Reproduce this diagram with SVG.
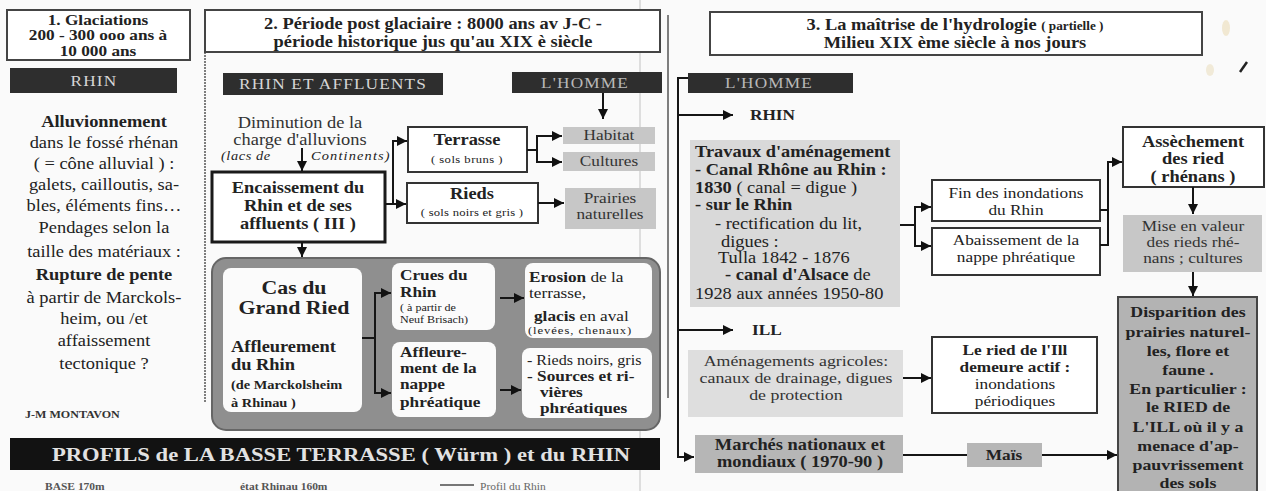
<svg xmlns="http://www.w3.org/2000/svg" width="1266" height="491" viewBox="0 0 1266 491">
<defs>
<marker id="ah" markerUnits="userSpaceOnUse" markerWidth="10" markerHeight="10" refX="10" refY="5" orient="auto">
<path d="M0,0 L10,5 L0,10 z" fill="#111"/>
</marker>
<style>
text{font-family:"Liberation Serif","Times New Roman",serif;fill:#222;font-size:15px;transform-box:fill-box;transform-origin:center;transform:scaleX(1.15)}
.l{transform-origin:left center}
.c{text-anchor:middle}
.b{font-weight:bold}
.s{font-size:11px;letter-spacing:0.4px}
.box{fill:#fff;stroke:#333;stroke-width:2}
.frame{fill:#fff;stroke:#444;stroke-width:2}
.dark{fill:#2e2e2e}
.bt{fill:#d6d6d6;letter-spacing:1px}
.bt2{fill:#b8b8b8;letter-spacing:1px}
.g1{fill:#c7c7c7}
.g2{fill:#d9d9d9}
.g3{fill:#b6b6b6}
.inner{fill:#fbfbfb}
.conn{fill:none;stroke:#151515;stroke-width:2}
.arr{marker-end:url(#ah)}
.gt{fill:#333}
</style>
</defs>
<rect x="0" y="0" width="1266" height="491" fill="#fafafa"/>

<!-- scan artefacts / frames -->
<g id="frames">
<line x1="640" y1="0" x2="640" y2="491" stroke="#d4d4d4" stroke-width="1.5"/>
<line x1="205" y1="52" x2="205" y2="403" stroke="#555" stroke-width="1.5" stroke-dasharray="2 1"/>
<line x1="668" y1="15" x2="668" y2="398" stroke="#555" stroke-width="1.5"/>
<path d="M1240,72 L1247,62" stroke="#222" stroke-width="2.5" fill="none"/>
<ellipse cx="1226" cy="28" rx="4" ry="8" fill="#efe4c8" opacity="0.8"/>
<ellipse cx="1210" cy="70" rx="4" ry="6" fill="#efe6d0" opacity="0.8"/>
</g>

<!-- Section 1 -->
<g id="n-glaciations">
<rect class="frame" x="7" y="10" width="183" height="50"/>
<text class="c b" x="98" y="25">1. Glaciations</text>
<text class="c b" x="98" y="40">200 - 300 ooo ans à</text>
<text class="c b" x="98" y="56">10 000 ans</text>
</g>
<g id="n-rhin1">
<rect class="dark" x="10" y="68" width="167" height="25"/>
<text class="c bt" x="94" y="86">RHIN</text>
</g>
<g id="n-alluvionnement" style="font-size:16px">
<text class="c b" x="104" y="127" style="font-size:16px">Alluvionnement</text>
<text class="c" x="104" y="148" style="font-size:16px">dans le fossé rhénan</text>
<text class="c" x="104" y="169" style="font-size:16px">( = cône alluvial ) :</text>
<text class="c" x="104" y="190" style="font-size:16px">galets, cailloutis, sa-</text>
<text class="c" x="104" y="211" style="font-size:16px">bles, éléments fins…</text>
<text class="c" x="104" y="233" style="font-size:16px">Pendages selon la</text>
<text class="c" x="104" y="257" style="font-size:16px">taille des matériaux :</text>
<text class="c b" x="104" y="280" style="font-size:16px">Rupture de pente</text>
<text class="c" x="104" y="303" style="font-size:16px">à partir de Marckols-</text>
<text class="c" x="104" y="324" style="font-size:16px">heim,    ou /et</text>
<text class="c" x="104" y="346" style="font-size:16px">affaissement</text>
<text class="c" x="104" y="369" style="font-size:16px">tectonique ?</text>
</g>
<g id="n-montavon">
<text class="l b" x="25" y="418" style="font-size:10.5px;fill:#333">J-M MONTAVON</text>
</g>

<!-- Section 2 -->
<g id="n-periode">
<rect class="frame" x="205" y="10" width="455" height="42"/>
<text class="c b" x="433" y="29" style="font-size:16px">2. Période post glaciaire : 8000 ans av J-C -</text>
<text class="c b" x="433" y="47" style="font-size:16px">période historique jus qu'au XIX è siècle</text>
</g>
<g id="n-rhin-affluents">
<rect class="dark" x="223" y="73" width="220" height="22"/>
<text class="c bt" x="333" y="89">RHIN ET AFFLUENTS</text>
</g>
<g id="n-homme2">
<rect class="dark" x="512" y="72" width="150" height="21"/>
<text class="c bt2" x="585" y="88">L'HOMME</text>
</g>
<g id="n-diminution">
<text class="c gt" x="300" y="128" style="font-size:16px">Diminution de la</text>
<text class="c gt" x="300" y="145" style="font-size:16px">charge d'alluvions</text>
<text class="l" x="221" y="160" style="font-size:12.5px;font-style:italic;letter-spacing:0.5px">(lacs de</text>
<text class="l" x="311" y="160" style="font-size:12.5px;font-style:italic;letter-spacing:1px">Continents)</text>
</g>
<g id="n-encaissement">
<rect x="212" y="172" width="173" height="70" fill="#fff" stroke="#1a1a1a" stroke-width="3"/>
<text class="c b" x="298" y="193" style="font-size:16px">Encaissement du</text>
<text class="c b" x="298" y="211" style="font-size:16px">Rhin et de ses</text>
<text class="c b" x="298" y="229" style="font-size:16px">affluents ( III )</text>
</g>
<g id="n-terrasse">
<rect class="box" x="408" y="127" width="119" height="45"/>
<text class="c b" x="467" y="145" style="font-size:16px">Terrasse</text>
<text class="c s" x="467" y="163">( sols bruns )</text>
</g>
<g id="n-rieds">
<rect class="box" x="407" y="183" width="131" height="40"/>
<text class="c b" x="472" y="199" style="font-size:16px">Rieds</text>
<text class="c s" x="472" y="216" style="letter-spacing:0.2px">( sols noirs et gris )</text>
</g>
<g id="n-habitat">
<rect class="g1" x="563" y="127" width="92" height="17"/>
<text class="c gt" x="609" y="140">Habitat</text>
</g>
<g id="n-cultures">
<rect class="g1" x="563" y="152" width="92" height="19"/>
<text class="c gt" x="609" y="166">Cultures</text>
</g>
<g id="n-prairies">
<rect class="g1" x="565" y="188" width="91" height="41"/>
<text class="c gt" x="610" y="203">Prairies</text>
<text class="c gt" x="610" y="219">naturelles</text>
</g>

<g id="n-grandried">
<rect x="212" y="258" width="448" height="172" rx="14" fill="#8f8f8f" stroke="#666" stroke-width="2"/>
<g id="n-cas">
<rect class="inner" x="223" y="268" width="139" height="144" rx="8"/>
<text class="c b" x="294" y="294" style="font-size:19px">Cas du</text>
<text class="c b" x="294" y="314" style="font-size:19px">Grand Ried</text>
<text class="l b" x="231" y="352" style="font-size:16px">Affleurement</text>
<text class="l b" x="231" y="370" style="font-size:16px">du Rhin</text>
<text class="l b" x="231" y="389" style="font-size:12.5px">(de Marckolsheim</text>
<text class="l b" x="231" y="407" style="font-size:12.5px">à Rhinau )</text>
</g>
<g id="n-crues">
<rect class="inner" x="392" y="263" width="103" height="67" rx="8"/>
<text class="l b" x="400" y="280">Crues du</text>
<text class="l b" x="400" y="297">Rhin</text>
<text class="l" x="400" y="311" style="font-size:10.5px">( à partir de</text>
<text class="l" x="400" y="323" style="font-size:10.5px">Neuf Brisach)</text>
</g>
<g id="n-affleurement">
<rect class="inner" x="392" y="342" width="104" height="75" rx="8"/>
<text class="l b" x="400" y="357">Affleure-</text>
<text class="l b" x="400" y="373">ment de la</text>
<text class="l b" x="400" y="389">nappe</text>
<text class="l b" x="400" y="407">phréatique</text>
</g>
<g id="n-erosion">
<rect class="inner" x="525" y="263" width="127" height="75" rx="8"/>
<text class="l" x="529" y="282"><tspan class="b">Erosion</tspan>  de la</text>
<text class="l" x="529" y="298">terrasse,</text>
<text class="l" x="534" y="321"><tspan class="b">glacis</tspan> en aval</text>
<text class="l" x="528" y="334" style="font-size:11px;letter-spacing:0.8px">(levées, chenaux)</text>
</g>
<g id="n-riedsnoirs">
<rect class="inner" x="522" y="348" width="130" height="70" rx="8"/>
<text class="l" x="527" y="365" style="font-size:14px">- Rieds noirs, gris</text>
<text class="l b" x="527" y="381">- Sources et ri-</text>
<text class="l b" x="540" y="397">vières</text>
<text class="l b" x="540" y="413">phréatiques</text>
</g>
</g>

<g id="n-profils">
<rect x="10" y="438" width="650" height="32" fill="#121212"/>
<text x="52" y="461" textLength="578" lengthAdjust="spacingAndGlyphs" style="transform:none;font-size:18px;font-weight:bold;fill:#e2e2e2">PROFILS  de LA BASSE TERRASSE ( Würm ) et du  RHIN</text>
<text class="l b" x="45" y="490" style="font-size:10px;fill:#555">BASE 170m</text>
<text class="l b" x="240" y="490" style="font-size:10px;fill:#555">état Rhinau 160m</text>
<line x1="440" y1="485" x2="474" y2="485" stroke="#777" stroke-width="2"/>
<text class="l" x="480" y="490" style="font-size:10px;fill:#666">Profil du Rhin</text>
</g>

<!-- Section 3 -->
<g id="n-maitrise">
<rect class="frame" x="710" y="12" width="492" height="43"/>
<text class="c b" x="955" y="30" style="font-size:16px">3. La maîtrise de l'hydrologie <tspan style="font-size:11.5px">( partielle )</tspan></text>
<text class="c b" x="955" y="48" style="font-size:16px">Milieu XIX ème siècle à nos jours</text>
</g>
<g id="n-homme3">
<rect class="dark" x="688" y="73" width="165" height="20"/>
<text class="c bt2" x="769" y="88">L'HOMME</text>
</g>
<g id="n-rhin3">
<text class="l b" x="750" y="120">RHIN</text>
</g>
<g id="n-ill">
<text class="l b" x="752" y="335">ILL</text>
</g>
<g id="n-travaux">
<rect class="g2" x="690" y="140" width="210" height="167"/>
<text class="l b" x="695" y="157" style="font-size:16px">Travaux d'aménagement</text>
<text class="l b" x="695" y="175" style="font-size:16px">- Canal Rhône au Rhin :</text>
<text class="l" x="695" y="193" style="font-size:16px"><tspan class="b">1830</tspan>  ( canal = digue )</text>
<text class="l b" x="695" y="210" style="font-size:16px">-  sur le Rhin</text>
<text class="l" x="715" y="229" style="font-size:16px">- rectification du lit,</text>
<text class="l" x="721" y="247" style="font-size:16px">digues :</text>
<text class="l" x="718" y="263" style="font-size:16px">Tulla 1842 - 1876</text>
<text class="l" x="725" y="280" style="font-size:16px"><tspan class="b">- canal d'Alsace</tspan>  de</text>
<text class="l" x="695" y="299" style="font-size:16px">1928  aux années 1950-80</text>
</g>
<g id="n-fin">
<rect class="box" x="932" y="180" width="168" height="41"/>
<text class="c" x="1016" y="198">Fin des inondations</text>
<text class="c" x="1016" y="215">du Rhin</text>
</g>
<g id="n-abaissement">
<rect class="box" x="932" y="228" width="168" height="47"/>
<text class="c" x="1016" y="245">Abaissement de la</text>
<text class="c" x="1016" y="262">nappe phréatique</text>
</g>
<g id="n-assechement">
<rect class="box" x="1123" y="127" width="141" height="60"/>
<text class="c b" x="1193" y="147" style="font-size:16px">Assèchement</text>
<text class="c b" x="1193" y="164" style="font-size:16px">des ried</text>
<text class="c b" x="1193" y="182" style="font-size:16px">( rhénans )</text>
</g>
<g id="n-mise">
<rect class="g1" x="1123" y="215" width="139" height="57"/>
<text class="c gt" x="1193" y="231">Mise en valeur</text>
<text class="c gt" x="1193" y="247">des rieds rhé-</text>
<text class="c gt" x="1193" y="263">nans ; cultures</text>
</g>
<g id="n-disparition">
<rect x="1118" y="297" width="139" height="200" fill="#b3b3b3" stroke="#444" stroke-width="2"/>
<text class="c b" x="1188" y="317" style="font-size:15.5px">Disparition des</text>
<text class="c b" x="1188" y="337" style="font-size:15.5px">prairies naturel-</text>
<text class="c b" x="1188" y="356" style="font-size:15.5px">les, flore et</text>
<text class="c b" x="1188" y="375" style="font-size:15.5px">faune .</text>
<text class="c b" x="1188" y="394" style="font-size:15.5px">En particulier :</text>
<text class="c b" x="1188" y="412" style="font-size:15.5px">le RIED de</text>
<text class="c b" x="1188" y="432" style="font-size:15.5px">L'ILL où il  y a</text>
<text class="c b" x="1188" y="451" style="font-size:15.5px">menace d'ap-</text>
<text class="c b" x="1188" y="470" style="font-size:15.5px">pauvrissement</text>
<text class="c b" x="1188" y="488" style="font-size:15.5px">des sols</text>
</g>
<g id="n-amenagements">
<rect class="g2" x="688" y="350" width="215" height="67" style="fill:#dedede"/>
<text class="c gt" x="796" y="366" style="font-size:15.5px">Aménagements agricoles:</text>
<text class="c gt" x="796" y="383" style="font-size:15.5px">canaux de drainage, digues</text>
<text class="c gt" x="796" y="400" style="font-size:15.5px">de protection</text>
</g>
<g id="n-ried-ill">
<rect class="box" x="932" y="337" width="165" height="76"/>
<text class="c b" x="1015" y="355">Le ried de l'Ill</text>
<text class="c b" x="1015" y="372">demeure actif :</text>
<text class="c" x="1015" y="389">inondations</text>
<text class="c" x="1015" y="406">périodiques</text>
</g>
<g id="n-marches">
<rect class="g3" x="695" y="435" width="208" height="38"/>
<text class="c b" x="800" y="450" style="font-size:16px">Marchés nationaux et</text>
<text class="c b" x="800" y="467" style="font-size:16px">mondiaux ( 1970-90 )</text>
</g>
<g id="n-mais">
<rect class="g3" x="967" y="443" width="75" height="24"/>
<text class="c b" x="1004" y="460">Maïs</text>
</g>

<g id="connectors">
<path class="conn arr" d="M603,93 V119"/>
<path class="conn arr" d="M302,148 V171"/>
<path class="conn arr" d="M385,204 H406"/>
<path class="conn arr" d="M393,204 V141 H407"/>
<path class="conn arr" d="M527,150 H537 V136 H562"/>
<path class="conn arr" d="M537,150 V162 H562"/>
<path class="conn arr" d="M538,203 H564"/>
<path class="conn arr" d="M302,242 V257"/>
<path class="conn" d="M362,338 H375"/>
<path class="conn arr" d="M375,338 V293 H391"/>
<path class="conn arr" d="M375,338 V393 H391"/>
<path class="conn arr" d="M500,298 H524"/>
<path class="conn arr" d="M500,390 H521"/>
<path class="conn arr" d="M688,78 H678 V457 H694"/>
<path class="conn arr" d="M678,115 H733"/>
<path class="conn arr" d="M678,330 H733"/>
<path class="conn arr" d="M900,225 H915 V207 H931"/>
<path class="conn arr" d="M915,225 V246 H931"/>
<path class="conn" d="M1100,210 H1108"/>
<path class="conn arr" d="M1100,245 H1108 V162 H1122"/>
<path class="conn arr" d="M1193,187 V214"/>
<path class="conn arr" d="M1193,272 V296"/>
<path class="conn arr" d="M903,378 H931"/>
<path class="conn" d="M903,455 H967"/>
<path class="conn arr" d="M1042,455 H1117"/>
</g>
</svg>
